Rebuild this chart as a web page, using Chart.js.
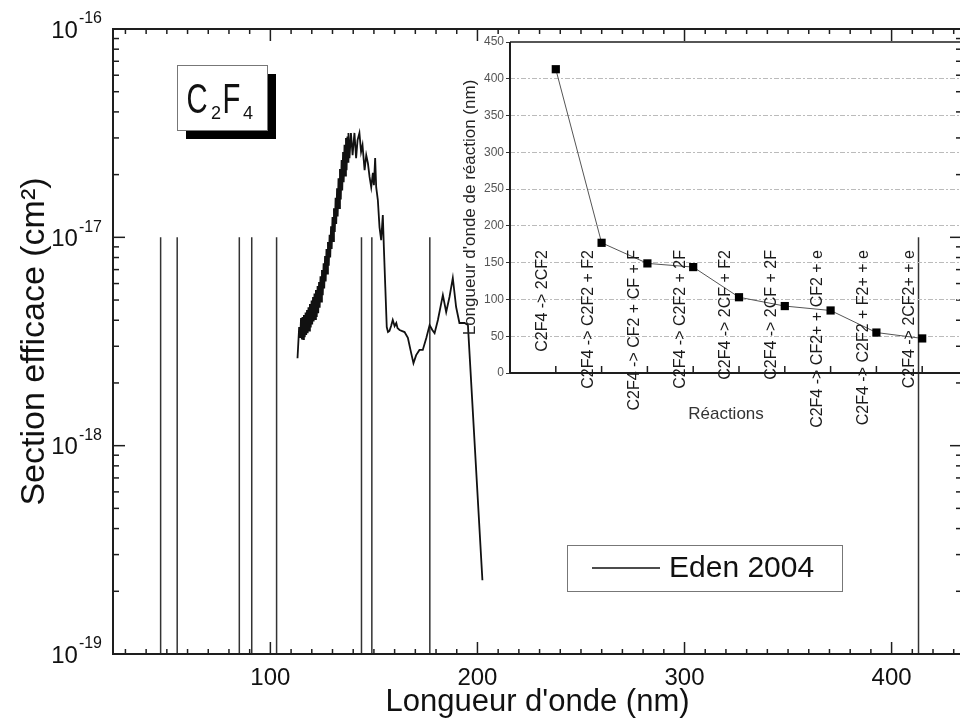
<!DOCTYPE html>
<html>
<head>
<meta charset="utf-8">
<script src="https://cdn.jsdelivr.net/npm/chart.js@4.4.1/dist/chart.umd.min.js"></script>
<style>
  html, body { margin: 0; padding: 0; background: #fff; overflow: hidden; }
  #wrap { position: relative; width: 960px; height: 722px; overflow: hidden; }
  #main { position: absolute; left: 0; top: 0; }
  #inset { position: absolute; left: 440px; top: 30px; }
</style>
</head>
<body>
<div id="wrap">
  <canvas id="main" width="965" height="722"></canvas>
  <canvas id="inset" width="535" height="410"></canvas>
</div>
<script>
// Section efficace d'absorption de C2F4 et seuils des voies de dissociation

const FONT = "'Liberation Sans', Arial, Helvetica, sans-serif";

// spectre mesuré (Eden 2004)
const wavelengthNm = [
  113.1, 113.9, 114.4,
  114.8, 115.2, 115.5, 115.9, 116.2, 116.6, 117.0, 117.3, 117.7, 118.0,
  118.4, 118.8, 119.1, 119.5, 119.9, 120.2, 120.6, 120.9, 121.3, 121.6,
  122.0, 122.4, 122.8, 123.1, 123.5, 123.8, 124.2, 124.6, 124.9, 125.3,
  125.7, 126.0, 126.4, 126.7, 127.1, 127.4, 127.8, 128.2, 128.6, 128.9,
  129.3, 129.6, 130.0, 130.3, 130.7, 131.1, 131.5, 131.8, 132.2, 132.5,
  132.9, 133.2, 133.6, 134.0, 134.4, 134.7, 135.1, 135.4, 135.8, 136.1,
  136.5, 136.8, 137.2, 137.5,
  137.7, 138.2, 138.9, 139.7, 140.6,
  141.4, 142.1, 143.0, 143.8, 144.5, 145.5, 146.3, 147.1, 147.9, 148.7,
  149.5, 150.0, 150.6, 151.1, 151.9, 152.7, 153.5, 154.3, 154.8, 155.5,
  156.2, 156.8, 157.5, 158.3, 159.1, 160.0, 160.8, 161.4, 162.4, 164.8,
  166.4, 168.0, 169.1, 170.4, 172.0, 173.6, 175.3, 176.9, 178.2, 179.3,
  180.9, 183.3, 184.9, 186.5, 188.1, 189.7, 191.3, 193.8, 195.4, 202.4
];
const crossSection = [
  2.63e-18, 3.71e-18, 3.29e-18,
  4.10e-18, 3.23e-18, 4.15e-18, 3.25e-18, 4.24e-18, 3.32e-18, 4.35e-18, 3.40e-18, 4.48e-18, 3.47e-18,
  4.62e-18, 3.57e-18, 4.78e-18, 3.69e-18, 4.97e-18, 3.82e-18, 5.17e-18, 3.95e-18, 5.37e-18, 4.05e-18,
  5.58e-18, 4.15e-18, 5.84e-18, 4.32e-18, 6.10e-18, 4.59e-18, 6.50e-18, 4.92e-18, 6.97e-18, 5.28e-18,
  7.50e-18, 5.68e-18, 8.13e-18, 6.14e-18, 8.80e-18, 6.69e-18, 9.49e-18, 7.30e-18, 1.03e-17, 8.00e-18,
  1.13e-17, 8.80e-18, 1.25e-17, 9.60e-18, 1.38e-17, 1.06e-17, 1.55e-17, 1.16e-17, 1.72e-17, 1.26e-17,
  1.92e-17, 1.38e-17, 2.13e-17, 1.52e-17, 2.35e-17, 1.68e-17, 2.57e-17, 1.84e-17, 2.78e-17, 1.98e-17,
  3.00e-17, 2.10e-17, 3.05e-17, 2.30e-17,
  3.17e-17, 2.40e-17, 3.17e-17, 2.48e-17, 3.17e-17,
  2.40e-17, 2.93e-17, 3.17e-17, 2.57e-17, 2.77e-17, 2.10e-17, 2.48e-17, 2.27e-17, 1.95e-17, 1.74e-17,
  2.04e-17, 1.78e-17, 2.40e-17, 1.74e-17, 1.51e-17, 1.12e-17, 9.70e-18, 1.28e-17, 8.98e-18, 5.77e-18,
  3.71e-18, 3.51e-18, 3.55e-18, 3.75e-18, 4.01e-18, 3.75e-18, 3.88e-18, 3.67e-18, 3.59e-18, 3.51e-18,
  3.29e-18, 2.78e-18, 2.49e-18, 2.72e-18, 2.88e-18, 2.88e-18, 3.29e-18, 3.79e-18, 3.59e-18, 3.47e-18,
  4.01e-18, 5.28e-18, 4.38e-18, 5.17e-18, 6.38e-18, 4.63e-18, 3.88e-18, 3.88e-18, 3.79e-18, 2.26e-19
];

// voies de réaction et longueur d'onde seuil (nm)
const reactionLabels = [
  'C2F4 -> 2CF2',
  'C2F4 -> C2F2 + F2',
  'C2F4 -> CF2 + CF + F',
  'C2F4 -> C2F2 + 2F',
  'C2F4 -> 2CF + F2',
  'C2F4 -> 2CF + 2F',
  'C2F4 -> CF2+ + CF2 + e',
  'C2F4 -> C2F2 + F2+ + e',
  'C2F4 -> 2CF2+ + e'
];
const reactionWavelength = [413, 177, 149, 144, 103, 91, 85, 55, 47];

// graduations
const xMajorTicks = [100, 200, 300, 400];
const yDecades = [1e-19, 1e-18, 1e-17, 1e-16];
const seuilTop = 1e-17;

// traits verticaux aux seuils
const seuilPoints = [];
reactionWavelength.forEach(w => {
  seuilPoints.push({ x: w, y: 1e-19 }, { x: w, y: seuilTop }, { x: w, y: null });
});

function line(ctx, x1, y1, x2, y2) {
  ctx.beginPath();
  ctx.moveTo(x1, y1);
  ctx.lineTo(x2, y2);
  ctx.stroke();
}

function stretchedText(ctx, s, x, y, size, sx) {
  ctx.save();
  ctx.translate(x, y);
  ctx.scale(sx, 1);
  ctx.font = size + 'px ' + FONT;
  ctx.fillText(s, 0, 0);
  ctx.restore();
}

const mainDecor = {
  id: 'mainDecor',
  afterDatasetsDraw(chart) {
    const { ctx, chartArea: a, scales: { x, y } } = chart;
    ctx.save();

    // cadre
    ctx.strokeStyle = '#1e1e1e';
    ctx.lineWidth = 2;
    ctx.strokeRect(a.left, a.top, a.right - a.left, a.bottom - a.top);

    // graduations vers l'intérieur
    ctx.lineWidth = 1.5;
    for (let v = 30; v < x.max; v += 10) {
      const px = x.getPixelForValue(v);
      const len = xMajorTicks.includes(v) ? 12 : 5;
      line(ctx, px, a.bottom, px, a.bottom - len);
      line(ctx, px, a.top, px, a.top + len);
    }
    yDecades.forEach(d => {
      for (let m = 1; m < 10; m++) {
        const v = d * m;
        if (v > y.max * 1.001) break;
        const py = y.getPixelForValue(v);
        const len = m === 1 ? 12 : 6;
        line(ctx, a.left, py, a.left + len, py);
        line(ctx, a.right, py, a.right - len, py);
      }
    });

    // étiquettes 10^n
    ctx.fillStyle = '#111';
    ctx.textBaseline = 'middle';
    ctx.textAlign = 'right';
    yDecades.forEach(v => {
      const py = y.getPixelForValue(v);
      const exp = String(Math.round(Math.log10(v)));
      ctx.font = '16px ' + FONT;
      ctx.fillText(exp, a.left - 11, py - 10);
      const w = ctx.measureText(exp).width;
      ctx.font = '24px ' + FONT;
      ctx.fillText('10', a.left - 12 - w, py + 2);
    });

    // étiquette de la molécule
    ctx.fillStyle = '#000';
    ctx.fillRect(186, 74, 90, 65);
    ctx.fillStyle = '#fff';
    ctx.fillRect(177, 65, 90, 65);
    ctx.strokeStyle = '#777';
    ctx.lineWidth = 1;
    ctx.strokeRect(177.5, 65.5, 90, 65);
    ctx.fillStyle = '#111';
    ctx.textAlign = 'left';
    ctx.textBaseline = 'alphabetic';
    stretchedText(ctx, 'C', 186.5, 113, 43, 0.68);
    stretchedText(ctx, '2', 211, 119, 19, 0.95);
    stretchedText(ctx, 'F', 222.5, 113, 43, 0.68);
    stretchedText(ctx, '4', 243, 119, 19, 0.95);

    // légende
    const ds = chart.data.datasets[0];
    ctx.fillStyle = '#fff';
    ctx.fillRect(567, 545, 275, 46);
    ctx.strokeStyle = '#777';
    ctx.strokeRect(567.5, 545.5, 275, 46);
    ctx.strokeStyle = ds.borderColor;
    ctx.lineWidth = 1.5;
    line(ctx, 592, 568, 660, 568);
    ctx.fillStyle = '#111';
    ctx.font = '30px ' + FONT;
    ctx.textBaseline = 'middle';
    ctx.fillText(ds.label, 669, 569);

    ctx.restore();
  }
};

new Chart(document.getElementById('main'), {
  type: 'line',
  data: {
    datasets: [
      {
        label: 'Eden 2004',
        data: wavelengthNm.map((w, i) => ({ x: w, y: crossSection[i] })),
        borderColor: '#111',
        borderWidth: 1.8,
        pointRadius: 0,
        tension: 0
      },
      {
        label: 'seuils',
        data: seuilPoints,
        borderColor: '#333',
        borderWidth: 1.5,
        pointRadius: 0,
        spanGaps: false
      }
    ]
  },
  options: {
    responsive: false,
    animation: false,
    devicePixelRatio: 1,
    layout: { padding: { top: 29, right: 3, left: 0, bottom: 0 } },
    plugins: { legend: { display: false }, tooltip: { enabled: false } },
    scales: {
      x: {
        type: 'linear',
        min: 24,
        max: 434,
        afterFit(s) { s.height = 68; },
        afterBuildTicks(s) { s.ticks = xMajorTicks.map(v => ({ value: v })); },
        grid: { display: false, drawTicks: false },
        border: { display: false },
        ticks: { font: { family: FONT, size: 24 }, color: '#111', padding: 10, maxRotation: 0 },
        title: {
          display: true,
          text: "Longueur d'onde (nm)",
          font: { family: FONT, size: 31 },
          color: '#111',
          padding: { top: 0, bottom: 1 }
        }
      },
      y: {
        type: 'logarithmic',
        min: 1e-19,
        max: 1e-16,
        afterFit(s) { s.width = 113; },
        grid: { display: false, drawTicks: false },
        border: { display: false },
        ticks: { display: false },
        title: {
          display: true,
          text: 'Section efficace (cm²)',
          font: { family: FONT, size: 34 },
          color: '#111',
          padding: { top: 14, bottom: 0 }
        }
      }
    }
  },
  plugins: [mainDecor]
});

// encart : longueur d'onde seuil par réaction
const insetDecor = {
  id: 'insetDecor',
  afterDraw(chart) {
    const { ctx, chartArea: a, scales: { x } } = chart;
    ctx.save();
    ctx.strokeStyle = '#1e1e1e';
    ctx.lineWidth = 2;
    line(ctx, a.left, a.top, a.left, a.bottom);
    line(ctx, a.left, a.bottom, a.right, a.bottom);
    ctx.lineWidth = 1.5;
    line(ctx, a.left, a.top, a.right, a.top);

    ctx.lineWidth = 1.5;
    reactionLabels.forEach((lab, i) => {
      const px = x.getPixelForValue(i + 1);
      line(ctx, px, a.bottom, px, a.bottom - 7);
    });

    ctx.fillStyle = '#1a1a1a';
    ctx.font = '16px ' + FONT;
    ctx.textAlign = 'right';
    ctx.textBaseline = 'middle';
    reactionLabels.forEach((lab, i) => {
      const px = x.getPixelForValue(i + 1) - 13;
      ctx.save();
      ctx.translate(px, a.bottom - 123);
      ctx.rotate(-Math.PI / 2);
      ctx.fillText(lab, 0, 0);
      ctx.restore();
    });

    ctx.font = '17px ' + FONT;
    ctx.fillStyle = '#333';
    ctx.textAlign = 'center';
    ctx.fillText('Réactions', a.left + 216, a.bottom + 41);
    ctx.restore();
  }
};

new Chart(document.getElementById('inset'), {
  type: 'line',
  data: {
    datasets: [{
      label: "Longueur d'onde de réaction",
      data: reactionWavelength.map((w, i) => ({ x: i + 1, y: w })),
      borderColor: '#555',
      borderWidth: 1,
      pointStyle: 'rect',
      pointRadius: 5.8,
      pointBackgroundColor: '#000',
      pointBorderColor: '#000',
      pointBorderWidth: 0,
      tension: 0
    }]
  },
  options: {
    responsive: false,
    animation: false,
    devicePixelRatio: 1,
    layout: { padding: { top: 12, right: 7, left: 0, bottom: 0 } },
    plugins: { legend: { display: false }, tooltip: { enabled: false } },
    scales: {
      x: {
        type: 'linear',
        min: 0,
        max: 10,
        afterFit(s) { s.height = 67; },
        ticks: { display: false },
        grid: { display: false, drawTicks: false },
        border: { display: false }
      },
      y: {
        min: 0,
        max: 450,
        afterFit(s) { s.width = 70; },
        ticks: { stepSize: 50, font: { family: FONT, size: 12 }, color: '#555', padding: 2 },
        grid: {
          color: c => (c.tick && (c.tick.value === 0 || c.tick.value === 450)) ? 'rgba(0,0,0,0)' : '#bbbbbb',
          lineWidth: 1,
          tickLength: 4,
          tickColor: '#333',
          tickBorderDash: []
        },
        border: { display: false, dash: [5, 2, 2, 2] },
        title: {
          display: true,
          text: "Longueur d'onde de réaction (nm)",
          font: { family: FONT, size: 17 },
          color: '#222',
          padding: { top: 20, bottom: 0 }
        }
      }
    }
  },
  plugins: [insetDecor]
});
</script>
</body>
</html>
